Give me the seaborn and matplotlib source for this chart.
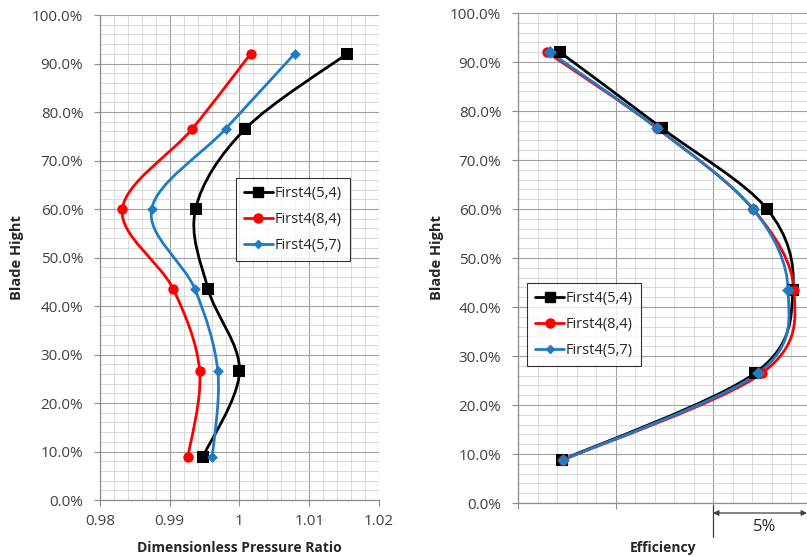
import numpy as np
import pandas as pd
import matplotlib
matplotlib.use('Agg')
import matplotlib.pyplot as plt
import seaborn as sns
from matplotlib.path import Path
from matplotlib.patches import PathPatch
from matplotlib.lines import Line2D
from matplotlib.ticker import MultipleLocator, PercentFormatter, FuncFormatter

# data
heights = [92.0, 76.5, 60.0, 43.5, 26.5, 8.8]
series = ['First4(5,4)', 'First4(8,4)', 'First4(5,7)']

pr_54 = [1.0154, 1.0008, 0.9937, 0.9955, 1.0000, 0.9947]
pr_84 = [1.0016, 0.9932, 0.9832, 0.9905, 0.9943, 0.9926]
pr_57 = [1.0079, 0.9980, 0.9874, 0.9936, 0.9969, 0.9961]

eff_54 = [77.15, 82.38, 87.77, 89.10, 87.15, 77.26]
eff_84 = [76.49, 82.13, 87.05, 89.15, 87.51, 77.31]
eff_57 = [76.64, 82.13, 87.05, 88.85, 87.31, 77.31]

colors = ['#000000', '#FF0000', '#1F7CC4']
markers = ['s', 'o', 'D']
msizes = [9, 7.5, 5.5]

sns.set_style('white')
plt.rcParams['font.family'] = ['Open Sans', 'DejaVu Sans']

fig = plt.figure(figsize=(8.07, 5.57), dpi=100)
ax1 = fig.add_axes([0.1239, 0.1023, 0.3457, 0.8707])
ax2 = fig.add_axes([0.6419, 0.0969, 0.3581, 0.8797])


def style_axes(ax, xmaj, xmin):
    ax.set_ylim(0, 100)
    ax.xaxis.set_major_locator(MultipleLocator(xmaj))
    ax.xaxis.set_minor_locator(MultipleLocator(xmin))
    ax.yaxis.set_major_locator(MultipleLocator(10))
    ax.yaxis.set_minor_locator(MultipleLocator(2))
    ax.yaxis.set_major_formatter(PercentFormatter(100, decimals=1))
    ax.grid(which='major', color='#a0a0a0', lw=0.8)
    ax.grid(which='minor', color='#d4d4d4', lw=0.6)
    ax.set_axisbelow(True)
    for s in ['top', 'right']:
        ax.spines[s].set_visible(False)
    for s in ['left', 'bottom']:
        ax.spines[s].set_color('#8c8c8c')
        ax.spines[s].set_linewidth(0.9)
    ax.tick_params(which='major', direction='out', length=4, color='#8c8c8c',
                   labelsize=11, labelcolor='#404040', left=True, bottom=True)
    ax.tick_params(axis='y', which='major', pad=8)
    ax.tick_params(axis='x', which='major', pad=6)
    ax.tick_params(which='minor', length=0)


def smooth_line(ax, xs, ys, color):
    # Excel style smoothed line (Catmull-Rom -> Bezier in screen space)
    pts = ax.transData.transform(np.column_stack([xs, ys]))
    n = len(pts)
    verts = [pts[0]]
    codes = [Path.MOVETO]
    for i in range(n - 1):
        p0 = pts[i - 1] if i > 0 else pts[i]
        p1 = pts[i]
        p2 = pts[i + 1]
        p3 = pts[i + 2] if i + 2 < n else pts[i + 1]
        verts += [p1 + (p2 - p0) / 6, p2 - (p3 - p1) / 6, p2]
        codes += [Path.CURVE4] * 3
    verts = ax.transData.inverted().transform(np.array(verts))
    ax.add_patch(PathPatch(Path(verts, codes), fill=False, ec=color, lw=2, zorder=3))


# left panel
ax1.set_xlim(0.98, 1.02)
style_axes(ax1, 0.01, 0.002)
ax1.xaxis.set_major_formatter(FuncFormatter(lambda v, p: '{:g}'.format(round(v, 3))))

for vals, c, m, ms in zip([pr_54, pr_84, pr_57], colors, markers, msizes):
    smooth_line(ax1, vals, heights, c)
    df = pd.DataFrame({'x': vals, 'y': heights})
    sns.scatterplot(data=df, x='x', y='y', ax=ax1, marker=m, s=ms ** 2, color=c,
                    edgecolor=c, linewidth=0, zorder=4, legend=False)
ax1.set_xlabel('Dimensionless Pressure Ratio', fontsize=10, fontweight='bold', va='center')
ax1.set_ylabel('Blade Hight', fontsize=10.5, fontweight='bold', va='center')
ax1.xaxis.set_label_coords(0.5, -0.099)
ax1.yaxis.set_label_coords(-0.297, 0.5)

# right panel
ax2.set_xlim(75, 89.82)
style_axes(ax2, 5, 1)
ax2.set_xticklabels([])
for vals, c, m, ms in zip([eff_54, eff_84, eff_57], colors, markers, [8, 7.5, 6.5]):
    smooth_line(ax2, vals, heights, c)
    df = pd.DataFrame({'x': vals, 'y': heights})
    sns.scatterplot(data=df, x='x', y='y', ax=ax2, marker=m, s=ms ** 2, color=c,
                    edgecolor=c, linewidth=0, zorder=4, legend=False)
ax2.set_xlabel('Efficiency', fontsize=10, fontweight='bold', va='center')
ax2.set_ylabel('Blade Hight', fontsize=10.5, fontweight='bold', va='center')
ax2.xaxis.set_label_coords(0.5, -0.092)
ax2.yaxis.set_label_coords(-0.28, 0.5)

handles = [Line2D([], [], color=c, marker=m, ms=s, lw=2)
           for c, m, s in zip(colors, markers, [6.5, 6.5, 4.5])]
for ax, anchor in [(ax1, (0.487, 0.664)), (ax2, (0.031, 0.449))]:
    leg = ax.legend(handles, series, loc='upper left', bbox_to_anchor=anchor,
                    frameon=True, fancybox=False, fontsize=10.5, handlelength=2.0,
                    handletextpad=0.1, labelspacing=0.75, borderpad=0.55,
                    borderaxespad=0)
    leg.get_frame().set_edgecolor('#000000')
    leg.get_frame().set_linewidth(0.8)
    for t in leg.get_texts():
        t.set_color('#262626')

# 5% scale marker below the efficiency axis
fig.add_artist(Line2D([713 / 807, 713 / 807], [0.0934, 0.036], color='#404040', lw=0.9))
ax2.annotate('', xy=(85, 0.079), xytext=(89.82, 0.079),
             xycoords=('data', 'figure fraction'), textcoords=('data', 'figure fraction'),
             arrowprops=dict(arrowstyle='<|-|>', color='#404040', lw=0.9,
                             mutation_scale=8, shrinkA=0, shrinkB=0),
             annotation_clip=False)
fig.text(765 / 807, 0.054, '5%', ha='center', va='center', fontsize=12, color='#262626')

fig.savefig('out.png', dpi=100)
